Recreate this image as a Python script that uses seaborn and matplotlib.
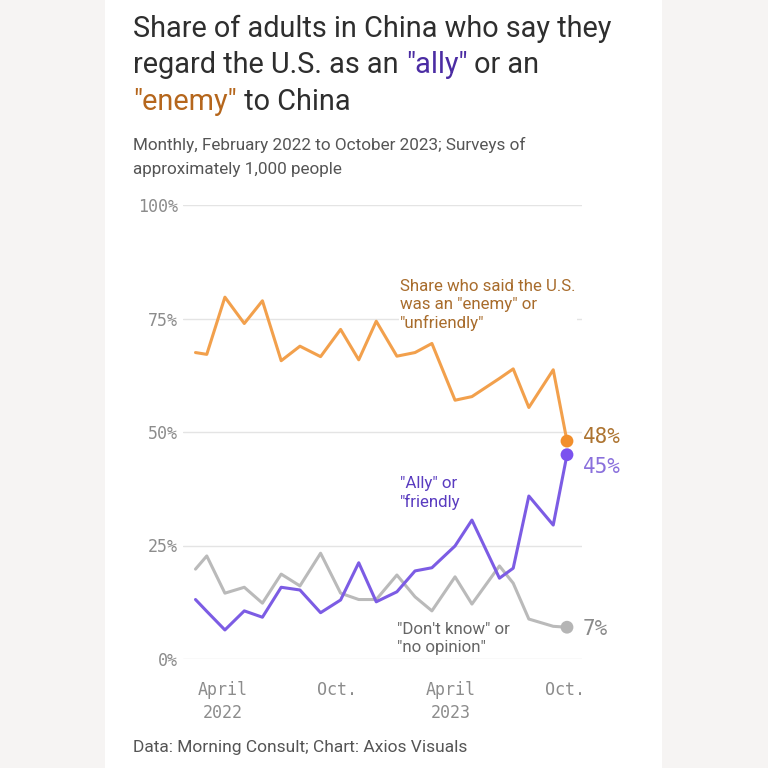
import pandas as pd
import matplotlib
matplotlib.use("Agg")
import matplotlib.pyplot as plt
from matplotlib.patches import Rectangle
import seaborn as sns

# survey dates (roughly monthly)
dates = ["2022-02-17", "2022-03-07", "2022-04-05", "2022-05-06", "2022-06-04", "2022-07-04",
         "2022-08-03", "2022-09-05", "2022-10-07", "2022-11-05", "2022-12-03", "2023-01-05",
         "2023-02-03", "2023-03-02", "2023-04-08", "2023-05-05", "2023-06-18", "2023-07-10",
         "2023-08-04", "2023-09-12", "2023-10-04"]
enemy = [67.5, 67.1, 79.7, 73.9, 78.9, 65.7, 68.9, 66.6, 72.6, 65.9, 74.4, 66.7,
         67.5, 69.5, 57.0, 57.8, 61.8, 63.9, 55.4, 63.7, 48]
ally = [13.1, 10.5, 6.4, 10.6, 9.2, 15.8, 15.2, 10.2, 13.0, 21.2, 12.6, 14.8,
        19.4, 20.1, 24.9, 30.6, 17.8, 20.0, 35.9, 29.5, 45]
dont_know = [19.8, 22.7, 14.5, 15.8, 12.3, 18.7, 16.1, 23.3, 14.5, 13.1, 13.1, 18.5,
             13.7, 10.6, 18.1, 12.1, 20.5, 16.7, 8.8, 7.2, 7]

tick_dates = ["2022-04-01", "2022-10-01", "2023-04-01", "2023-10-01"]
tick_labels = ["April\n2022", "Oct.", "April\n2023", "Oct."]
y_ticks = [0, 25, 50, 75, 100]

df = pd.DataFrame({"date": pd.to_datetime(dates), "enemy": enemy, "ally": ally, "dont_know": dont_know})
long = df.melt(id_vars="date", var_name="series", value_name="share")

line_colors = {"enemy": "#f2a04c", "ally": "#7c5ce4", "dont_know": "#bababa"}
dot_colors = {"enemy": "#f28f2c", "ally": "#7b52ef", "dont_know": "#b5b5b5"}
label_colors = {"enemy": "#ad7431", "ally": "#8a70dc", "dont_know": "#8a8a8a"}

sns.set_theme(style="white")
plt.rcParams["font.family"] = ["Roboto", "DejaVu Sans"]
MONO = "DejaVu Sans Mono"

W = H = 768
def fx(px):
    return px / W
def fy(py):
    return 1 - py / H

fig = plt.figure(figsize=(7.68, 7.68), dpi=100, facecolor="#f6f4f3")
fig.patches.append(Rectangle((fx(105), 0), fx(662) - fx(105), 1, transform=fig.transFigure,
                             facecolor="white", edgecolor="none", zorder=-5))

ax = fig.add_axes([fx(183), fy(659), fx(582) - fx(183), fy(205) - fy(659)])
ax.set_facecolor("white")

sns.lineplot(data=long, x="date", y="share", hue="series", hue_order=["dont_know", "ally", "enemy"],
             palette=line_colors, linewidth=2.2, legend=False, ax=ax)
last = long[long["date"] == long["date"].max()]
sns.scatterplot(data=last, x="date", y="share", hue="series", palette=dot_colors, s=85,
                edgecolor="none", legend=False, ax=ax, zorder=5)

ax.set_xlim(pd.Timestamp("2022-01-28"), pd.Timestamp("2023-10-28"))
ax.set_ylim(0, 100)
ax.set_yticks(y_ticks)
ax.set_yticklabels([f"{v}%" for v in y_ticks])
ax.set_xticks(pd.to_datetime(tick_dates))
ax.set_xticklabels(tick_labels)
ax.set_xlabel("")
ax.set_ylabel("")
ax.grid(axis="y", color="#e4e4e4", linewidth=1)
ax.grid(axis="x", visible=False)
for sp in ax.spines.values():
    sp.set_visible(False)
ax.tick_params(axis="y", length=0, pad=3.5, labelsize=12, labelcolor="#8c8c8c")
ax.tick_params(axis="x", length=12, width=1, color="#e4e4e4", pad=4, labelsize=12, labelcolor="#8c8c8c")
for lbl in ax.get_xticklabels() + ax.get_yticklabels():
    lbl.set_fontfamily(MONO)
for lbl in ax.get_xticklabels():
    lbl.set_linespacing(1.35)

# end labels
offsets = {"enemy": 3, "ally": -9, "dont_know": -1.5}
for _, row in last.iterrows():
    ax.annotate(f"{row['share']:.0f}%", (row["date"], row["share"]), xytext=(11.5, offsets[row["series"]]),
                textcoords="offset points", va="center", ha="left", fontsize=15,
                fontfamily=MONO, color=label_colors[row["series"]])

# series notes (baseline given for the last line)
bg = dict(facecolor="white", edgecolor="none", pad=1)
fig.text(fx(400), fy(328), 'Share who said the U.S.\nwas an "enemy" or\n"unfriendly"', color="#a86c2c",
         fontsize=12.2, va="baseline", ha="left", linespacing=1.25, bbox=bg, zorder=3)
fig.text(fx(400), fy(507), '"Ally" or\n"friendly', color="#5a3cc0",
         fontsize=12.2, va="baseline", ha="left", linespacing=1.25)
fig.text(fx(397), fy(652), '"Don\'t know" or\n"no opinion"', color="#666666",
         fontsize=12.2, va="baseline", ha="left", linespacing=1.25, bbox=bg, zorder=3)

# title with coloured words
renderer = fig.canvas.get_renderer()
def text_w(s, **kw):
    t = fig.text(0, 0, s + "l", **kw)
    t0 = fig.text(0, 0, "l", **kw)
    w = t.get_window_extent(renderer).width - t0.get_window_extent(renderer).width
    t.remove()
    t0.remove()
    return w / fig.bbox.width

def rich_line(x, y, parts, **kw):
    prefix = ""
    for s, c in parts:
        fig.text(x + (text_w(prefix, **kw) if prefix else 0), y, s, color=c, va="baseline", **kw)
        prefix += s

TXT = "#2e2e2e"
tkw = dict(fontsize=20.8)
rich_line(fx(133), fy(37), [("Share of adults in China who say they", TXT)], **tkw)
rich_line(fx(133), fy(73), [("regard the U.S. as an ", TXT), ('"ally"', "#4b2ca3"), (" or an", TXT)], **tkw)
rich_line(fx(133), fy(110), [('"enemy"', "#b5661c"), (" to China", TXT)], **tkw)

fig.text(fx(133), fy(174), "Monthly, February 2022 to October 2023; Surveys of\napproximately 1,000 people",
         color="#555555", fontsize=12.3, va="baseline", ha="left", linespacing=1.75)
fig.text(fx(133), fy(752), "Data: Morning Consult; Chart: Axios Visuals", color="#555555",
         fontsize=12.5, va="baseline", ha="left")

fig.savefig("out.png", dpi=100, facecolor=fig.get_facecolor())
